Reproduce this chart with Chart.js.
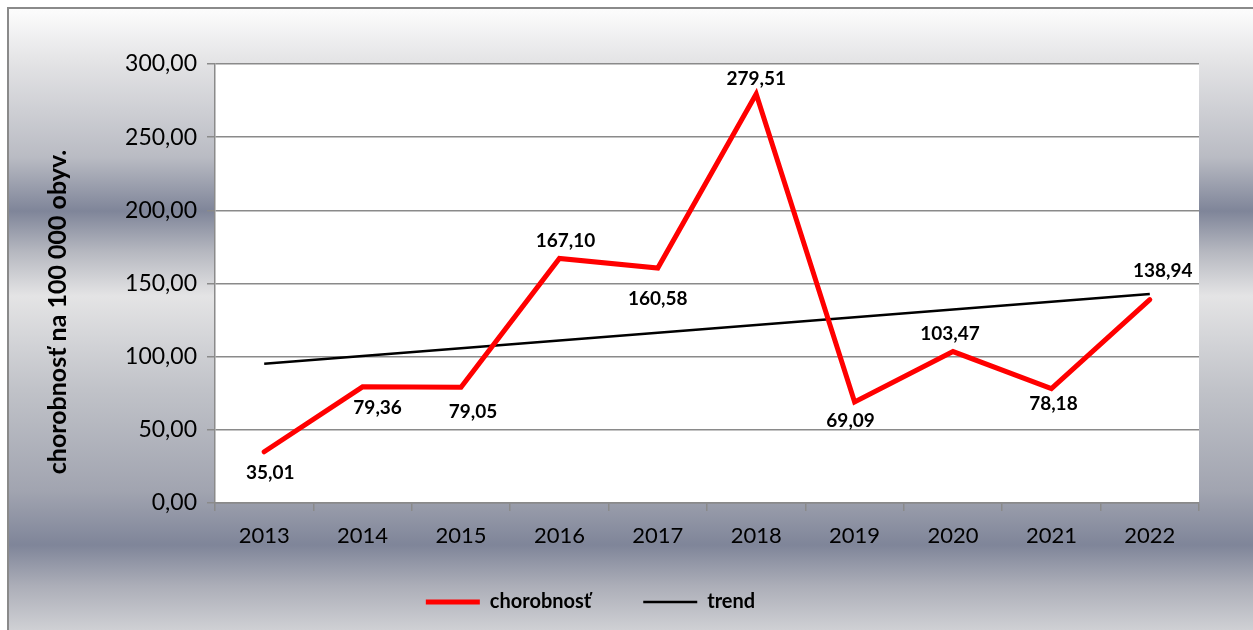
<!DOCTYPE html>
<html>
<head>
<meta charset="utf-8">
<script src="https://cdn.jsdelivr.net/npm/chart.js@4/dist/chart.umd.min.js"></script>
<style>
  body { margin: 0; background: #fff; }
  #wrap { width: 1253px; height: 630px; position: relative; }
</style>
</head>
<body>
<div id="wrap"><canvas id="chart"></canvas></div>
<script>
// data
const years = ['2013', '2014', '2015', '2016', '2017', '2018', '2019', '2020', '2021', '2022']
const chorobnost = [35.01, 79.36, 79.05, 167.10, 160.58, 279.51, 69.09, 103.47, 78.18, 138.94]
const trend = [95.2, 100.5, 105.8, 111.1, 116.4, 121.7, 127.0, 132.3, 137.6, 142.9]
const yTicks = [0, 50, 100, 150, 200, 250, 300]
const yTitle = 'chorobnosť na 100 000 obyv.'

const fmt = v => Number(v).toFixed(2).replace('.', ',')

Chart.defaults.font.family = 'Lato'
Chart.defaults.color = '#000'

// background gradient, frame and white plot area
const backdrop = {
  id: 'backdrop',
  beforeDraw(chart) {
    const ctx = chart.ctx
    const h = chart.height
    const g = ctx.createLinearGradient(0, 0, 0, h)
    g.addColorStop(0, '#ffffff')
    g.addColorStop(0.02, '#fbfbfb')
    g.addColorStop(0.1, '#e3e3e5')
    g.addColorStop(0.25, '#b9bbc3')
    g.addColorStop(0.335, '#7f8599')
    g.addColorStop(0.4, '#b6b8c0')
    g.addColorStop(0.47, '#e4e4e5')
    g.addColorStop(0.62, '#c0c2c8')
    g.addColorStop(0.78, '#a1a4b0')
    g.addColorStop(0.865, '#7f8599')
    g.addColorStop(0.93, '#acaeb8')
    g.addColorStop(1, '#cfd0d4')
    ctx.save()
    ctx.fillStyle = '#ffffff'
    ctx.fillRect(0, 0, chart.width, h)
    ctx.fillStyle = g
    ctx.fillRect(8, 8, chart.width, h)
    ctx.strokeStyle = '#8a8a8a'
    ctx.lineWidth = 2
    ctx.strokeRect(8, 8, chart.width + 20, h + 20)
    const a = chart.chartArea
    ctx.fillStyle = '#ffffff'
    ctx.fillRect(a.left, a.top, a.right - a.left, a.bottom - a.top)
    ctx.restore()
  },
  afterLayout(chart) {
    // legend sits a bit left of centre and higher in the original
    chart.legend.left -= 16
    chart.legend.right -= 16
    chart.legend.top -= 23
    chart.legend.bottom -= 23
  },
  afterDraw(chart) {
    // y axis title, placed like Excel does (a little below the axis middle)
    const ctx = chart.ctx
    ctx.save()
    ctx.translate(58, 312)
    ctx.rotate(-Math.PI / 2)
    ctx.font = 'bold 25px Lato'
    ctx.fillStyle = '#000'
    ctx.textAlign = 'center'
    ctx.textBaseline = 'middle'
    ctx.fillText(yTitle, 0, 0)
    ctx.restore()
  }
}

// value labels next to the red line
const valueLabels = {
  id: 'valueLabels',
  afterDatasetsDraw(chart, args, opts) {
    const ctx = chart.ctx
    const meta = chart.getDatasetMeta(0)
    ctx.save()
    ctx.font = 'bold 19px Lato'
    ctx.fillStyle = '#000'
    ctx.textAlign = 'center'
    ctx.textBaseline = 'middle'
    meta.data.forEach((pt, i) => {
      const off = opts.offsets[i]
      ctx.fillText(fmt(chart.data.datasets[0].data[i]), pt.x + off[0], pt.y + off[1])
    })
    ctx.restore()
  }
}

const ctx = document.getElementById('chart').getContext('2d')
const myChart = new Chart(ctx, {
  type: 'line',
  data: {
    labels: years,
    datasets: [{
      label: 'chorobnosť',
      data: chorobnost,
      borderColor: '#ff0000',
      backgroundColor: '#ff0000',
      borderWidth: 5,
      borderCapStyle: 'round',
      borderJoinStyle: 'miter',
      pointRadius: 0,
      pointStyle: 'line',
      tension: 0
    }, {
      label: 'trend',
      data: trend,
      borderColor: '#000000',
      backgroundColor: '#000000',
      borderWidth: 2.5,
      pointRadius: 0,
      pointStyle: 'line',
      tension: 0
    }]
  },
  options: {
    responsive: true,
    maintainAspectRatio: false,
    animation: false,
    layout: { padding: { left: 14, right: 54, top: 64, bottom: -15 } },
    plugins: {
      tooltip: { enabled: false },
      legend: {
        position: 'bottom',
        labels: {
          usePointStyle: true,
          pointStyleWidth: 54,
          padding: 52,
          font: { size: 20, weight: 'bold' },
          color: '#000'
        }
      },
      valueLabels: {
        offsets: [[6, 21], [15, 21], [12, 25], [6, -18], [0, 31], [0, -15], [-4, 19], [-3, -18], [2, 15], [13, -29]]
      }
    },
    scales: {
      x: {
        offset: true,
        grid: { offset: true, drawOnChartArea: false, drawTicks: true, tickLength: 8, color: '#8a8a8a', lineWidth: 1.5 },
        border: { color: '#8a8a8a', width: 1.5 },
        ticks: { font: { size: 22 }, padding: 12, color: '#000' },
        afterFit(scale) { scale.height = 60 }
      },
      y: {
        min: 0,
        max: 300,
        afterBuildTicks(scale) { scale.ticks = yTicks.map(v => ({ value: v })) },
        grid: { color: '#8a8a8a', lineWidth: 1.5, tickLength: 8 },
        border: { color: '#8a8a8a', width: 1.5 },
        ticks: { font: { size: 23 }, padding: 10, color: '#000', callback: v => fmt(v) },
        afterFit(scale) { scale.width = 201 }
      }
    }
  },
  plugins: [backdrop, valueLabels]
})
</script>
</body>
</html>
